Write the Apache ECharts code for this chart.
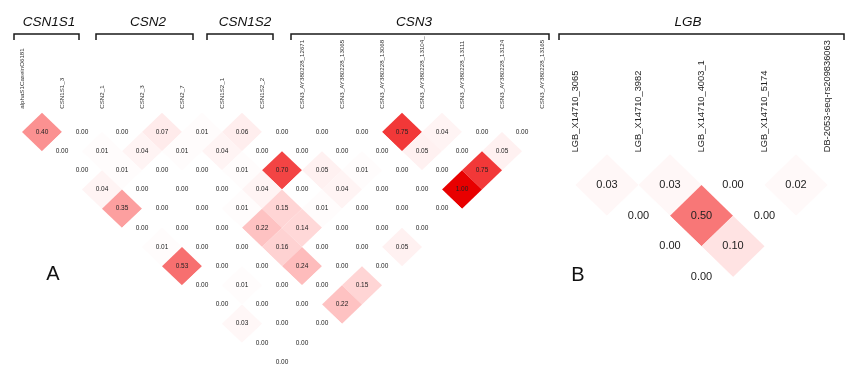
<!DOCTYPE html>
<html><head><meta charset="utf-8">
<script src="https://cdn.jsdelivr.net/npm/echarts@6/dist/echarts.min.js"></script>
<style>html,body{margin:0;padding:0;background:#fff}#c{width:855px;height:379px}</style>
</head><body><div id="c"></div>
<script>
// Marker names
const markersA = ['alphaS1CaseinO6181','CSN1S1_3','CSN2_1','CSN2_3','CSN2_7','CSN1S2_1','CSN1S2_2',
  'CSN3_AY380228_12671','CSN3_AY380228_13065','CSN3_AY380228_13068','CSN3_AY380228_13104_',
  'CSN3_AY380228_13111','CSN3_AY380228_13124','CSN3_AY380228_13165'];
const markersB = ['LGB_X14710_3065','LGB_X14710_3982','LGB_X14710_4003_1','LGB_X14710_5174','DB-2053-seq-rs209836063'];

// LD values by marker distance (row k holds pairs (i, i+k+1))
const ldA = [
  [0.40,0.00,0.00,0.07,0.01,0.06,0.00,0.00,0.00,0.75,0.04,0.00,0.00],
  [0.00,0.01,0.04,0.01,0.04,0.00,0.00,0.00,0.00,0.05,0.00,0.05],
  [0.00,0.01,0.00,0.00,0.01,0.70,0.05,0.01,0.00,0.00,0.75],
  [0.04,0.00,0.00,0.00,0.04,0.00,0.04,0.00,0.00,1.00],
  [0.35,0.00,0.00,0.01,0.15,0.01,0.00,0.00,0.00],
  [0.00,0.00,0.00,0.22,0.14,0.00,0.00,0.00],
  [0.01,0.00,0.00,0.16,0.00,0.00,0.05],
  [0.53,0.00,0.00,0.24,0.00,0.00],
  [0.00,0.01,0.00,0.00,0.15],
  [0.00,0.00,0.00,0.22],
  [0.03,0.00,0.00],
  [0.00,0.00],
  [0.00]
];
const ldB = [
  [0.03,0.03,0.00,0.02],
  [0.00,0.50,0.00],
  [0.00,0.10],
  [0.00]
];

// Gene groups
const genes = ['CSN1S1','CSN2','CSN1S2','CSN3','LGB'];
const panels = ['A','B'];

function toCells(rows){
  const out = [];
  rows.forEach((r,k)=>{ const d = k+1; r.forEach((v,i)=>out.push([i, i+d, v])); });
  return out;
}

const FONT = "'Liberation Sans', Arial, sans-serif";

function makeRender(fs){
  return function(params, api){
    const i = api.value(0), j = api.value(1), v = api.value(2);
    const m = (i+j)/2, d = j-i;
    const pts = [api.coord([m-0.5,d]), api.coord([m,d-1]), api.coord([m+0.5,d]), api.coord([m,d+1])];
    const c = api.coord([m,d]);
    return {type:'group', children:[
      {type:'polygon', shape:{points:pts}, style:{fill: api.visual('color'), stroke: null}},
      {type:'text', z2: 10, style:{text: v.toFixed(2), x:c[0], y:c[1], align:'center', verticalAlign:'middle',
        fontSize: fs, fontFamily: FONT, fill:'#222'}}
    ]};
  };
}

function bracket(x1, x2){
  return {type:'polyline', shape:{points:[[x1,40],[x1,34],[x2,34],[x2,40]]},
    style:{stroke:'#1a1a1a', lineWidth:1.5, fill:null}};
}
function heading(txt, x){
  return {type:'text', x:x, y:22, style:{text:txt, font:"italic 13.5px 'Liberation Sans', Arial, sans-serif",
    align:'center', verticalAlign:'middle', fill:'#111'}};
}
function panelLabel(txt, x, y){
  return {type:'text', x:x, y:y, style:{text:txt, font:"20px 'Liberation Sans Narrow', 'Arial Narrow', 'Liberation Sans', sans-serif",
    align:'center', verticalAlign:'middle', fill:'#111'}};
}

const chart = echarts.init(document.getElementById('c'), null, {renderer:'canvas'});
const option = {
  backgroundColor:'#ffffff',
  animation:false,
  grid:[
    {left:22, top:112.8, width:520, height:249.2, outerBoundsMode:'none', containLabel:false},
    {left:575.5, top:154.3, width:252, height:122.7, outerBoundsMode:'none', containLabel:false}
  ],
  xAxis:[
    {gridIndex:0, type:'value', position:'top', min:0, max:markersA.length-1, interval:1,
     axisLine:{show:false}, axisTick:{show:false}, splitLine:{show:false},
     axisLabel:{rotate:90, margin:4, fontSize:6.2, fontFamily:FONT, color:'#333', showMinLabel:true, showMaxLabel:true,
       formatter:(v)=>markersA[Math.round(v)] || ''}},
    {gridIndex:1, type:'value', position:'top', min:0, max:markersB.length-1, interval:1,
     axisLine:{show:false}, axisTick:{show:false}, splitLine:{show:false},
     axisLabel:{rotate:90, margin:2, fontSize:9.3, fontFamily:FONT, color:'#222', showMinLabel:true, showMaxLabel:true,
       formatter:(v)=>markersB[Math.round(v)] || ''}}
  ],
  yAxis:[
    {gridIndex:0, type:'value', inverse:true, min:0, max:ldA.length, show:false},
    {gridIndex:1, type:'value', inverse:true, min:0, max:ldB.length, show:false}
  ],
  visualMap:[{type:'continuous', show:false, min:0, max:1, dimension:2, seriesIndex:[0,1],
    inRange:{color:['#ffffff','#ffe3e3','#fec7c7','#fdacac','#fb9191','#f87777','#f65d5d','#f34444','#f02b2b','#ec1414','#e80000']}}],
  series:[
    {type:'custom', xAxisIndex:0, yAxisIndex:0, data:toCells(ldA), renderItem:makeRender(6.5), clip:false},
    {type:'custom', xAxisIndex:1, yAxisIndex:1, data:toCells(ldB), renderItem:makeRender(11), clip:false}
  ],
  graphic:[
    bracket(14,79), bracket(96,193), bracket(207,273), bracket(291,549), bracket(559,844),
    heading(genes[0],49), heading(genes[1],148), heading(genes[2],245), heading(genes[3],414), heading(genes[4],688),
    panelLabel(panels[0],53,274), panelLabel(panels[1],578,275)
  ]
};
chart.setOption(option);
</script>
</body></html>
